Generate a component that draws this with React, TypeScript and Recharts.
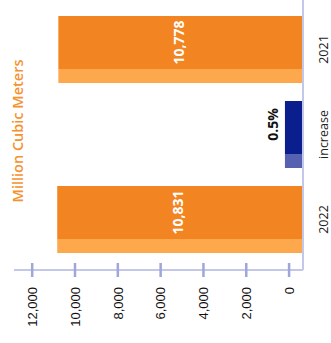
import { Bar, BarChart, LabelList, XAxis, YAxis } from "recharts";

// categories along the base, left to right before the chart is turned
const categories = ["2022", "increase", "2021"];
const volumes = [10831, null, 10778];
const changePct = [null, 0.5, null];
const volumeTicks = [0, 2000, 4000, 6000, 8000, 10000, 12000];

const data = categories.map((name, i) => ({
  name,
  volume: volumes[i],
  change: changePct[i],
}));

const ORANGE = "#f38422";
const ORANGE_LIGHT = "#fea84e";
const BLUE = "#0b1e8e";
const BLUE_LIGHT = "#5661b2";
const AXIS = "#c3c7ea";
const TICK = "#9fa6d9";

// the bars start a little below the 0 tick, at the axis line
const VOL_DOMAIN = [-650, 12850];

const twoTone = (dark: string, light: string) => (props: any) => {
  const { x, y, width, height } = props;
  if (!height || height <= 0) return <g />;
  const side = Math.round(width * 0.21);
  return (
    <g>
      <rect x={x} y={y} width={side} height={height} fill={light} />
      <rect x={x + side} y={y} width={width - side} height={height} fill={dark} />
    </g>
  );
};

const ValueTick = ({ x, y, payload }: any) => (
  <g>
    <line x1={x - 7} x2={x + 7} y1={y} y2={y} stroke={TICK} strokeWidth={2.5} />
    <text
      x={x - 17}
      y={y}
      dy="0.36em"
      textAnchor="end"
      fill="#111"
      fontSize={13}
      fontFamily="'Liberation Sans', Arial, sans-serif"
    >
      {payload.value.toLocaleString("en-US")}
    </text>
  </g>
);

const CategoryTick = ({ x, y, payload }: any) => (
  <text
    x={x}
    y={y}
    dy={25}
    textAnchor="middle"
    fill="#222"
    fontSize={12.5}
    fontFamily="'Open Sans', sans-serif"
  >
    {payload.value}
  </text>
);

const VolumeLabel = (props: any) => {
  const { x, y, width, height, value } = props;
  if (value == null) return null;
  const side = Math.round(width * 0.21);
  return (
    <text
      x={x + side + (width - side) / 2}
      y={y + height / 2 + 3}
      textAnchor="middle"
      fill="#fff"
      fontSize={14}
      fontWeight={700}
      fontFamily="'Open Sans', sans-serif"
    >
      {Number(value).toLocaleString("en-US")}
    </text>
  );
};

const ChangeLabel = (props: any) => {
  const { x, y, width, value } = props;
  if (value == null) return null;
  const side = Math.round(width * 0.21);
  return (
    <text
      x={x + side + (width - side) / 2 + 3}
      y={y - 7}
      textAnchor="middle"
      fill="#111"
      fontSize={14}
      fontWeight={700}
      fontFamily="'Open Sans', sans-serif"
    >
      {`${value}%`}
    </text>
  );
};

export default function App() {
  return (
    <div style={{ position: "fixed", left: 0, top: 0, width: 331, height: 343, background: "#fff" }}>
      <div
        style={{
          position: "absolute",
          left: 0,
          top: 0,
          width: 343,
          height: 331,
          transformOrigin: "0 0",
          transform: "translate(0px, 343px) rotate(-90deg)",
        }}
      >
        <div
          style={{
            position: "absolute",
            left: 212,
            top: 8,
            transform: "translateX(-50%)",
            whiteSpace: "nowrap",
            color: "#f5922f",
            fontFamily: "'Open Sans', sans-serif",
            fontWeight: 600,
            fontSize: 14.5,
          }}
        >
          Million Cubic Meters
        </div>
        <BarChart
          width={343}
          height={331}
          data={data}
          margin={{ top: 14, right: 0, bottom: 0, left: 0 }}
          barSize={67}
          barGap={-67}
        >
          <XAxis
            dataKey="name"
            height={28}
            padding={{ left: 8, right: 7 }}
            tickLine={false}
            tickSize={0}
            tickMargin={0}
            axisLine={{ stroke: AXIS, strokeWidth: 2 }}
            tick={<CategoryTick />}
            interval={0}
          />
          <YAxis
            yAxisId="vol"
            width={73}
            type="number"
            domain={VOL_DOMAIN}
            allowDataOverflow
            ticks={volumeTicks}
            tickLine={false}
            tickSize={0}
            tickMargin={0}
            axisLine={{ stroke: AXIS, strokeWidth: 2 }}
            tick={<ValueTick />}
          />
          <YAxis
            yAxisId="pct"
            orientation="right"
            width={0}
            hide
            type="number"
            domain={[0, 8]}
            allowDataOverflow
          />
          <Bar
            yAxisId="vol"
            dataKey={(d: any) => (d.volume == null ? null : [VOL_DOMAIN[0], d.volume])}
            shape={twoTone(ORANGE, ORANGE_LIGHT)}
            isAnimationActive={false}
          >
            <LabelList dataKey="volume" content={VolumeLabel} />
          </Bar>
          <Bar
            yAxisId="pct"
            dataKey="change"
            shape={twoTone(BLUE, BLUE_LIGHT)}
            isAnimationActive={false}
          >
            <LabelList dataKey="change" content={ChangeLabel} />
          </Bar>
        </BarChart>
      </div>
    </div>
  );
}
